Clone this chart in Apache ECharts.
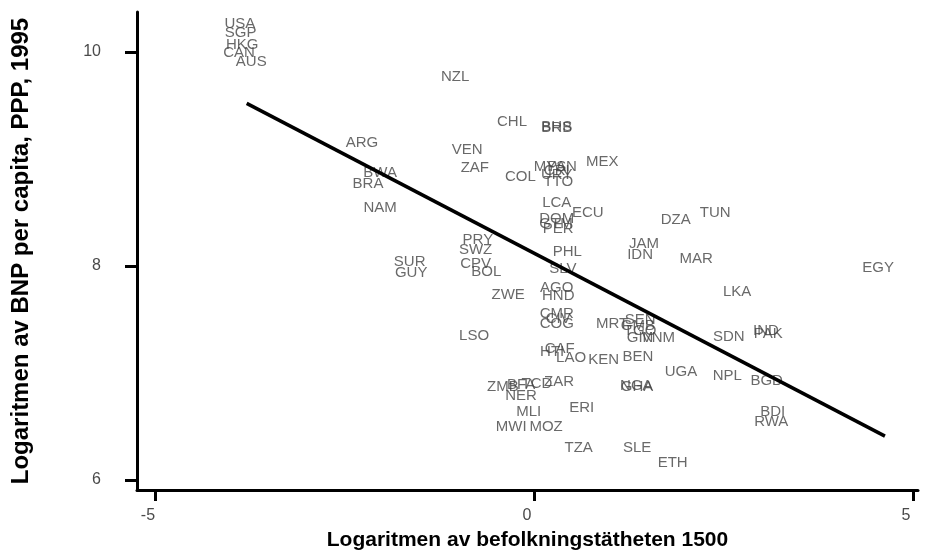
<!DOCTYPE html>
<html>
<head>
<meta charset="utf-8">
<script src="https://cdn.jsdelivr.net/npm/echarts@6/dist/echarts.min.js"></script>
<style>
  html, body { margin: 0; padding: 0; background: #ffffff; }
  #chart { width: 930px; height: 553px; }
</style>
</head>
<body>
<div id="chart"></div>
<script>
// 散点图：国家代码直接画在点的位置，外加一条回归直线
const 国家代码 = [
  'USA', 'SGP', 'HKG', 'CAN', 'AUS', 'NZL', 'CHL', 'BHS', 'BRB', 'ARG',
  'VEN', 'ZAF', 'MEX', 'MYS', 'PAN', 'CRI', 'URY', 'COL', 'TTO', 'BWA',
  'BRA', 'NAM', 'LCA', 'ECU', 'DOM', 'GTM', 'PER', 'PRY', 'TUN', 'DZA',
  'SWZ', 'CPV', 'SUR', 'GUY', 'JAM', 'IDN', 'PHL', 'MAR', 'BOL', 'SLV',
  'EGY', 'LKA', 'AGO', 'HND', 'ZWE', 'CMR', 'CIV', 'COG', 'LSO', 'MRT',
  'SEN', 'GMB', 'TGO', 'GIN', 'VNM', 'SDN', 'IND', 'PAK', 'HTI', 'CAF',
  'LAO', 'KEN', 'BEN', 'UGA', 'NPL', 'BGD', 'NGA', 'GHA', 'ZMB', 'BFA',
  'TCD', 'ZAR', 'NER', 'ERI', 'MLI', 'MWI', 'MOZ', 'TZA', 'SLE', 'ETH',
  'BDI', 'RWA',
]
const 人口密度对数 = [
  -3.88, -3.87, -3.85, -3.89, -3.73, -1.04, -0.29, 0.30, 0.30, -2.27,
  -0.88, -0.78, 0.90, 0.21, 0.37, 0.30, 0.30, -0.18, 0.32, -2.03,
  -2.19, -2.03, 0.30, 0.71, 0.30, 0.29, 0.32, -0.74, 2.39, 1.87,
  -0.77, -0.77, -1.64, -1.62, 1.45, 1.40, 0.44, 2.14, -0.63, 0.38,
  4.54, 2.68, 0.30, 0.32, -0.34, 0.30, 0.32, 0.30, -0.79, 1.03,
  1.40, 1.37, 1.40, 1.40, 1.64, 2.57, 3.06, 3.09, 0.24, 0.34,
  0.49, 0.92, 1.37, 1.94, 2.55, 3.07, 1.35, 1.36, -0.41, -0.17,
  0.04, 0.33, -0.17, 0.63, -0.07, -0.30, 0.16, 0.59, 1.36, 1.83,
  3.15, 3.13,
]
const 人均收入对数 = [
  10.26, 10.18, 10.07, 9.99, 9.91, 9.77, 9.35, 9.30, 9.29, 9.15,
  9.09, 8.92, 8.97, 8.93, 8.93, 8.89, 8.85, 8.83, 8.79, 8.87,
  8.77, 8.54, 8.59, 8.50, 8.44, 8.39, 8.35, 8.24, 8.50, 8.43,
  8.15, 8.02, 8.04, 7.94, 8.21, 8.10, 8.13, 8.07, 7.95, 7.97,
  7.98, 7.76, 7.80, 7.72, 7.73, 7.55, 7.51, 7.46, 7.35, 7.46,
  7.50, 7.44, 7.39, 7.33, 7.33, 7.34, 7.39, 7.37, 7.20, 7.23,
  7.14, 7.12, 7.15, 7.01, 6.97, 6.93, 6.88, 6.87, 6.87, 6.89,
  6.90, 6.92, 6.79, 6.67, 6.64, 6.50, 6.50, 6.30, 6.30, 6.16,
  6.64, 6.54,
]
const 拟合线X = [-3.79, 4.63]
const 拟合线Y = [9.52, 6.41]
const X轴刻度 = [-5, 0, 5]
const Y轴刻度 = [6, 8, 10]

const 字体 = 'Liberation Sans, Arial, sans-serif'

const 散点数据 = 国家代码.map((代码, 索引) => {
  return [人口密度对数[索引], 人均收入对数[索引], 代码]
})
const 拟合线数据 = 拟合线X.map((x, 索引) => [x, 拟合线Y[索引]])

const 图表 = echarts.init(document.getElementById('chart'))
图表.setOption({
  animation: false,
  textStyle: { fontFamily: 字体 },
  grid: {
    left: 137,
    right: 12,
    top: 12,
    bottom: 63,
    outerBoundsMode: 'none',
  },
  xAxis: {
    type: 'value',
    min: -5.237,
    max: 5.066,
    name: 'Logaritmen av befolkningstätheten 1500',
    nameLocation: 'middle',
    nameGap: 40,
    nameTextStyle: {
      color: '#000000',
      fontSize: 21,
      fontWeight: 'bold',
      fontFamily: 字体,
    },
    axisLine: { onZero: false, lineStyle: { color: '#000000', width: 3 } },
    axisTick: {
      show: true,
      length: 11,
      customValues: X轴刻度,
      lineStyle: { color: '#000000', width: 3 },
    },
    axisLabel: {
      customValues: X轴刻度,
      color: '#4a4a4a',
      fontSize: 16,
      margin: 18,
      padding: [0, 14, 0, 0],
    },
    splitLine: { show: false },
  },
  yAxis: {
    type: 'value',
    min: 5.907,
    max: 10.374,
    name: 'Logaritmen av BNP per capita, PPP, 1995',
    nameLocation: 'middle',
    nameRotate: 90,
    nameGap: 104,
    nameTextStyle: {
      color: '#000000',
      fontSize: 24,
      fontWeight: 'bold',
      fontFamily: 字体,
    },
    axisLine: { show: true, onZero: false, lineStyle: { color: '#000000', width: 3 } },
    axisTick: {
      show: true,
      length: 12,
      customValues: Y轴刻度,
      lineStyle: { color: '#000000', width: 3 },
    },
    axisLabel: {
      customValues: Y轴刻度,
      color: '#4a4a4a',
      fontSize: 16,
      margin: 36,
    },
    splitLine: { show: false },
  },
  series: [
    {
      type: 'scatter',
      data: 散点数据,
      symbolSize: 1,
      itemStyle: { color: 'rgba(0,0,0,0)' },
      label: {
        show: true,
        position: 'inside',
        formatter: (参数) => 参数.value[2],
        color: '#444444',
        fontSize: 15,
        fontFamily: 字体,
      },
      silent: true,
      z: 2,
    },
    {
      type: 'line',
      data: 拟合线数据,
      symbol: 'none',
      lineStyle: { color: '#000000', width: 3.5 },
      silent: true,
      z: 3,
    },
  ],
})
</script>
</body>
</html>
